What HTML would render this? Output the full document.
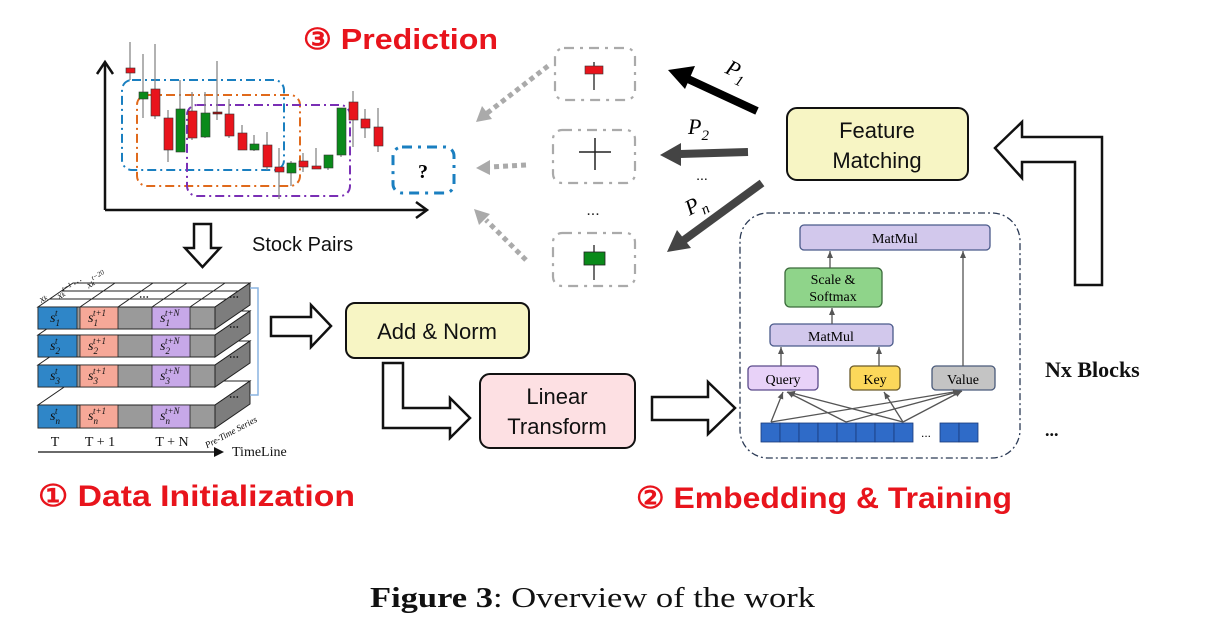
<!DOCTYPE html>
<html><head><meta charset="utf-8"><style>
html,body{margin:0;padding:0;background:#fff;}
svg{display:block;}
.sans{font-family:"Liberation Sans",Arial,sans-serif;}
.serif{font-family:"Liberation Serif","Times New Roman",serif;}
</style></head><body>
<svg width="1228" height="644" viewBox="0 0 1228 644" xmlns="http://www.w3.org/2000/svg">
<defs>
<marker id="ah" markerWidth="8" markerHeight="8" refX="7" refY="4" orient="auto" markerUnits="userSpaceOnUse"><path d="M0,1 L7,4 L0,7 z" fill="#555"/></marker>
</defs>

<text x="303" y="49" class="sans" font-weight="bold" font-size="29" fill="#e8141c" textLength="195" lengthAdjust="spacingAndGlyphs">③ Prediction</text>

<g stroke="#111" stroke-width="2.5" fill="none">
<path d="M105,210 L105,64"/><path d="M97,74 L105,62 L113,74"/>
<path d="M105,210 L426,210"/><path d="M416,202 L427,210 L416,218"/>
</g>
<g fill="none" stroke-width="2" stroke-dasharray="9,4,2,4">
<rect x="122" y="80" width="162" height="90" rx="10" stroke="#1a7fc0"/>
<rect x="137" y="95" width="163" height="91" rx="10" stroke="#e06a1c"/>
<rect x="187" y="105" width="163" height="91" rx="10" stroke="#7a2fb5"/>
</g>
<rect x="393" y="147" width="61" height="46" rx="9" fill="none" stroke="#1a7fc0" stroke-width="3" stroke-dasharray="10,6,3,6"/>
<text x="423" y="178" class="serif" font-weight="bold" font-size="20" text-anchor="middle">?</text>

<g stroke="#888" stroke-width="1.3">
<line x1="130" y1="42" x2="130" y2="80"/><line x1="143" y1="54" x2="143" y2="118"/><line x1="155" y1="44" x2="155" y2="119"/>
<line x1="168" y1="110" x2="168" y2="162"/><line x1="180" y1="80" x2="180" y2="152"/><line x1="192" y1="92" x2="192" y2="140"/>
<line x1="205" y1="92" x2="205" y2="138"/><line x1="217" y1="61" x2="217" y2="120"/><line x1="229" y1="99" x2="229" y2="138"/>
<line x1="242" y1="125" x2="242" y2="150"/><line x1="254" y1="135" x2="254" y2="151"/><line x1="267" y1="132" x2="267" y2="170"/>
<line x1="279" y1="148" x2="279" y2="199"/><line x1="291" y1="161" x2="291" y2="186"/><line x1="303" y1="153" x2="303" y2="172"/>
<line x1="316" y1="148" x2="316" y2="169"/><line x1="328" y1="155" x2="328" y2="170"/><line x1="341" y1="108" x2="341" y2="157"/>
<line x1="353" y1="91" x2="353" y2="147"/><line x1="365" y1="109" x2="365" y2="138"/><line x1="378" y1="108" x2="378" y2="152"/>
</g>
<g stroke="#333" stroke-width="0.6">
<rect x="126" y="68" width="9" height="5" fill="#e8141c"/>
<rect x="139" y="92" width="9" height="7" fill="#0a8a1a"/>
<rect x="151" y="89" width="9" height="27" fill="#e8141c"/>
<rect x="164" y="118" width="9" height="32" fill="#e8141c"/>
<rect x="176" y="109" width="9" height="43" fill="#0a8a1a"/>
<rect x="188" y="111" width="9" height="27" fill="#e8141c"/>
<rect x="201" y="113" width="9" height="24" fill="#0a8a1a"/>
<rect x="213" y="112" width="9" height="2" fill="#a01010"/>
<rect x="225" y="114" width="9" height="22" fill="#e8141c"/>
<rect x="238" y="133" width="9" height="17" fill="#e8141c"/>
<rect x="250" y="144" width="9" height="6" fill="#0a8a1a"/>
<rect x="263" y="145" width="9" height="22" fill="#e8141c"/>
<rect x="275" y="167" width="9" height="5" fill="#e8141c"/>
<rect x="287" y="163" width="9" height="10" fill="#0a8a1a"/>
<rect x="299" y="161" width="9" height="6" fill="#e8141c"/>
<rect x="312" y="166" width="9" height="3" fill="#e8141c"/>
<rect x="324" y="155" width="9" height="13" fill="#0a8a1a"/>
<rect x="337" y="108" width="9" height="47" fill="#0a8a1a"/>
<rect x="349" y="102" width="9" height="18" fill="#e8141c"/>
<rect x="361" y="119" width="9" height="9" fill="#e8141c"/>
<rect x="374" y="127" width="9" height="19" fill="#e8141c"/>
</g>

<path d="M194,224 L211,224 L211,248 L220,248 L202.5,267 L185,248 L194,248 Z" fill="#fff" stroke="#111" stroke-width="2.5"/>
<text x="252" y="251" class="sans" font-size="20" fill="#111">Stock Pairs</text>

<g fill="none" stroke="#aaa" stroke-width="2.2" stroke-dasharray="10,6,3,6">
<rect x="555" y="48" width="80" height="52" rx="9"/>
<rect x="553" y="130" width="82" height="53" rx="9"/>
<rect x="553" y="233" width="82" height="53" rx="9"/>
</g>
<line x1="594" y1="62" x2="594" y2="90" stroke="#222" stroke-width="1.3"/>
<rect x="585" y="66" width="18" height="8" fill="#e8141c" stroke="#333" stroke-width="0.6"/>
<line x1="579" y1="152" x2="611" y2="152" stroke="#222" stroke-width="1.5"/>
<line x1="595" y1="138" x2="595" y2="170" stroke="#222" stroke-width="1.5"/>
<line x1="594" y1="245" x2="594" y2="280" stroke="#222" stroke-width="1.3"/>
<rect x="584" y="252" width="21" height="13" fill="#0a8a1a" stroke="#222" stroke-width="0.8"/>
<text x="593" y="215" class="sans" font-size="16" text-anchor="middle" fill="#222">...</text>

<g stroke="#aaa" stroke-width="5" stroke-dasharray="5,4" fill="none">
<line x1="548" y1="66" x2="486" y2="114"/>
<line x1="526" y1="165" x2="490" y2="167"/>
<line x1="526" y1="260" x2="486" y2="220"/>
</g>
<g fill="#aaa">
<path d="M476,122 L482,106 L492,119 Z"/>
<path d="M476,168 L490,160 L490,175 Z"/>
<path d="M474,209 L490,214 L479,225 Z"/>
</g>

<line x1="757" y1="111" x2="688" y2="79" stroke="#000" stroke-width="8"/>
<path d="M668,70 L695,66 L685,89 Z" fill="#000"/>
<line x1="748" y1="152" x2="680" y2="154" stroke="#444" stroke-width="8"/>
<path d="M660,155 L681,143 L681,166 Z" fill="#444"/>
<line x1="762" y1="183" x2="684" y2="240" stroke="#444" stroke-width="8"/>
<path d="M667,252 L677,230 L691,248 Z" fill="#444"/>
<text x="726" y="76" class="serif" font-style="italic" font-size="22" transform="rotate(25 733 70)">P<tspan font-size="15" dy="6">1</tspan></text>
<text x="688" y="134" class="serif" font-style="italic" font-size="22">P<tspan font-size="15" dy="6">2</tspan></text>
<text x="702" y="180" class="sans" font-size="14" text-anchor="middle">...</text>
<text x="685" y="212" class="serif" font-style="italic" font-size="22" transform="rotate(-28 695 205)">P<tspan font-size="15" dy="6">n</tspan></text>

<rect x="787" y="108" width="181" height="72" rx="10" fill="#f7f5c4" stroke="#111" stroke-width="2"/>
<text x="877" y="138" class="sans" font-size="22" text-anchor="middle" fill="#111">Feature</text>
<text x="877" y="168" class="sans" font-size="22" text-anchor="middle" fill="#111">Matching</text>

<path d="M995,148 L1022,122 L1022,137 L1102,137 L1102,285 L1075,285 L1075,162 L1022,162 L1022,178 Z" fill="#fff" stroke="#111" stroke-width="2.5"/>

<text x="1045" y="377" class="serif" font-weight="bold" font-size="22" fill="#111">Nx Blocks</text>
<text x="1045" y="436" class="serif" font-weight="bold" font-size="18" fill="#111">...</text>

<rect x="740" y="213" width="280" height="245" rx="28" fill="none" stroke="#2b3a55" stroke-width="1.3" stroke-dasharray="7,3,2,3"/>
<rect x="800" y="225" width="190" height="25" rx="4" fill="#d2c8ec" stroke="#4a5a8a" stroke-width="1.3"/>
<text x="895" y="243" class="serif" font-size="14" text-anchor="middle">MatMul</text>
<rect x="785" y="268" width="97" height="39" rx="5" fill="#8fd48a" stroke="#3a6a3a" stroke-width="1.3"/>
<text x="833" y="284" class="serif" font-size="14" text-anchor="middle">Scale &amp;</text>
<text x="833" y="301" class="serif" font-size="14" text-anchor="middle">Softmax</text>
<rect x="770" y="324" width="123" height="22" rx="4" fill="#d2c8ec" stroke="#4a5a8a" stroke-width="1.3"/>
<text x="831" y="341" class="serif" font-size="14" text-anchor="middle">MatMul</text>
<rect x="748" y="366" width="70" height="24" rx="4" fill="#e8d2f8" stroke="#5a4a8a" stroke-width="1.3"/>
<text x="783" y="384" class="serif" font-size="14" text-anchor="middle">Query</text>
<rect x="850" y="366" width="50" height="24" rx="4" fill="#fcd85a" stroke="#6a5a2a" stroke-width="1.3"/>
<text x="875" y="384" class="serif" font-size="14" text-anchor="middle">Key</text>
<rect x="932" y="366" width="63" height="24" rx="4" fill="#c4c4c4" stroke="#4a5a7a" stroke-width="1.3"/>
<text x="963" y="384" class="serif" font-size="14" text-anchor="middle">Value</text>
<g stroke="#555" stroke-width="1.3" marker-end="url(#ah)">
<line x1="830" y1="268" x2="830" y2="251"/>
<line x1="832" y1="324" x2="832" y2="308"/>
<line x1="781" y1="366" x2="781" y2="347"/>
<line x1="879" y1="366" x2="879" y2="347"/>
<line x1="963" y1="366" x2="963" y2="251"/>
<line x1="771" y1="422" x2="783" y2="392"/>
<line x1="846" y1="422" x2="787" y2="392"/>
<line x1="903" y1="422" x2="788" y2="392"/>
<line x1="903" y1="422" x2="884" y2="392"/>
<line x1="771" y1="422" x2="960" y2="391"/>
<line x1="846" y1="422" x2="961" y2="391"/>
<line x1="903" y1="422" x2="962" y2="391"/>
</g>
<g fill="#2f6bc8" stroke="#1a3a7a" stroke-width="0.8">
<rect x="761" y="423" width="19" height="19"/><rect x="780" y="423" width="19" height="19"/><rect x="799" y="423" width="19" height="19"/><rect x="818" y="423" width="19" height="19"/>
<rect x="837" y="423" width="19" height="19"/><rect x="856" y="423" width="19" height="19"/><rect x="875" y="423" width="19" height="19"/><rect x="894" y="423" width="19" height="19"/>
<rect x="940" y="423" width="19" height="19"/><rect x="959" y="423" width="19" height="19"/>
</g>
<text x="926" y="437" class="sans" font-size="12" text-anchor="middle">...</text>

<g stroke="#222" stroke-width="1">
<polygon points="38,405 215,405 250,381 73,381" fill="#fff"/>
<rect x="38" y="405" width="177" height="23" fill="#9a9a9a"/>
<polygon points="215,405 250,381 250,404 215,428" fill="#7d7d7d"/>
<polygon points="38,365 215,365 250,341 73,341" fill="#fff"/>
<rect x="38" y="365" width="177" height="22" fill="#9a9a9a"/>
<polygon points="215,365 250,341 250,363 215,387" fill="#7d7d7d"/>
<polygon points="38,335 215,335 250,311 73,311" fill="#fff"/>
<rect x="38" y="335" width="177" height="22" fill="#9a9a9a"/>
<polygon points="215,335 250,311 250,333 215,357" fill="#7d7d7d"/>
<polygon points="38,307 215,307 250,283 73,283" fill="#fff"/>
<rect x="38" y="307" width="177" height="22" fill="#9a9a9a"/>
<polygon points="215,307 250,283 250,305 215,329" fill="#7d7d7d"/>
<line x1="80" y1="307" x2="115" y2="283"/><line x1="118" y1="307" x2="153" y2="283"/><line x1="152" y1="307" x2="187" y2="283"/><line x1="190" y1="307" x2="225" y2="283"/>
<line x1="50" y1="299" x2="227" y2="299"/><line x1="62" y1="291" x2="239" y2="291"/>
</g>
<g stroke="#222" stroke-width="0.8">
<rect x="38" y="307" width="39" height="22" fill="#2f86c8"/><rect x="80" y="307" width="38" height="22" fill="#f6a898"/><rect x="152" y="307" width="38" height="22" fill="#c7a8e8"/>
<rect x="38" y="335" width="39" height="22" fill="#2f86c8"/><rect x="80" y="335" width="38" height="22" fill="#f6a898"/><rect x="152" y="335" width="38" height="22" fill="#c7a8e8"/>
<rect x="38" y="365" width="39" height="22" fill="#2f86c8"/><rect x="80" y="365" width="38" height="22" fill="#f6a898"/><rect x="152" y="365" width="38" height="22" fill="#c7a8e8"/>
<rect x="38" y="405" width="39" height="23" fill="#2f86c8"/><rect x="80" y="405" width="38" height="23" fill="#f6a898"/><rect x="152" y="405" width="38" height="23" fill="#c7a8e8"/>
</g>
<g class="serif" font-style="italic" font-size="14" fill="#111">
<text x="50" y="322">s<tspan font-size="9" dy="4">1</tspan><tspan font-size="9" dx="-5" dy="-10">t</tspan></text>
<text x="50" y="350">s<tspan font-size="9" dy="4">2</tspan><tspan font-size="9" dx="-5" dy="-10">t</tspan></text>
<text x="50" y="380">s<tspan font-size="9" dy="4">3</tspan><tspan font-size="9" dx="-5" dy="-10">t</tspan></text>
<text x="50" y="420">s<tspan font-size="9" dy="4">n</tspan><tspan font-size="9" dx="-5" dy="-10">t</tspan></text>
<text x="88" y="322">s<tspan font-size="9" dy="4">1</tspan><tspan font-size="9" dx="-5" dy="-10">t+1</tspan></text>
<text x="88" y="350">s<tspan font-size="9" dy="4">2</tspan><tspan font-size="9" dx="-5" dy="-10">t+1</tspan></text>
<text x="88" y="380">s<tspan font-size="9" dy="4">3</tspan><tspan font-size="9" dx="-5" dy="-10">t+1</tspan></text>
<text x="88" y="420">s<tspan font-size="9" dy="4">n</tspan><tspan font-size="9" dx="-5" dy="-10">t+1</tspan></text>
<text x="160" y="322">s<tspan font-size="9" dy="4">1</tspan><tspan font-size="9" dx="-5" dy="-10">t+N</tspan></text>
<text x="160" y="350">s<tspan font-size="9" dy="4">2</tspan><tspan font-size="9" dx="-5" dy="-10">t+N</tspan></text>
<text x="160" y="380">s<tspan font-size="9" dy="4">3</tspan><tspan font-size="9" dx="-5" dy="-10">t+N</tspan></text>
<text x="160" y="420">s<tspan font-size="9" dy="4">n</tspan><tspan font-size="9" dx="-5" dy="-10">t+N</tspan></text>
<text x="38" y="300" font-size="10" transform="rotate(-30 45 295)">x<tspan font-size="7">k</tspan></text>
<text x="56" y="297" font-size="10" transform="rotate(-30 62 292)">x<tspan font-size="7">k</tspan><tspan font-size="7" dy="-5">t−1</tspan> …</text>
<text x="86" y="286" font-size="10" transform="rotate(-30 92 282)">x<tspan font-size="7">k</tspan><tspan font-size="7" dy="-5">t−20</tspan></text>
</g>
<g class="sans" font-size="10" fill="#111" font-weight="bold">
<text x="139" y="300">⋯</text><text x="229" y="300">⋯</text><text x="229" y="330">⋯</text><text x="229" y="360">⋯</text><text x="229" y="400">⋯</text>
</g>
<path d="M250,288 L258,288 L258,395 L250,395" fill="none" stroke="#8ab4e0" stroke-width="1.5"/>
<text x="200" y="440" class="serif" font-style="italic" font-size="9" transform="rotate(-28 220 430)">Pre-Time Series</text>
<g class="serif" font-size="14" fill="#111">
<text x="55" y="446" text-anchor="middle">T</text>
<text x="100" y="446" text-anchor="middle">T + 1</text>
<text x="172" y="446" text-anchor="middle">T + N</text>
<text x="232" y="456">TimeLine</text>
</g>
<line x1="38" y1="452" x2="215" y2="452" stroke="#111" stroke-width="1.3"/>
<path d="M214,447 L224,452 L214,457 Z" fill="#111"/>

<path d="M271,317 L311,317 L311,305 L331,326 L311,347 L311,336 L271,336 Z" fill="#fff" stroke="#111" stroke-width="2.5"/>
<rect x="346" y="303" width="183" height="55" rx="9" fill="#f7f5c4" stroke="#111" stroke-width="2"/>
<text x="437" y="339" class="sans" font-size="22" text-anchor="middle" fill="#111">Add &amp; Norm</text>
<path d="M383,363 L403,363 L403,408 L450,408 L450,398 L470,418 L450,438 L450,428 L383,428 Z" fill="#fff" stroke="#111" stroke-width="2.5"/>
<rect x="480" y="374" width="155" height="74" rx="10" fill="#fde0e3" stroke="#111" stroke-width="2"/>
<text x="557" y="404" class="sans" font-size="22" text-anchor="middle" fill="#111">Linear</text>
<text x="557" y="434" class="sans" font-size="22" text-anchor="middle" fill="#111">Transform</text>
<path d="M652,397 L708,397 L708,382 L735,408 L708,434 L708,420 L652,420 Z" fill="#fff" stroke="#111" stroke-width="2.5"/>

<text x="38" y="506" class="sans" font-weight="bold" font-size="30" fill="#e8141c" textLength="317" lengthAdjust="spacingAndGlyphs">① Data Initialization</text>
<text x="636" y="508" class="sans" font-weight="bold" font-size="30" fill="#e8141c" textLength="376" lengthAdjust="spacingAndGlyphs">② Embedding &amp; Training</text>

<text x="370" y="607" class="serif" font-size="28" fill="#111" textLength="445" lengthAdjust="spacingAndGlyphs"><tspan font-weight="bold">Figure 3</tspan>: Overview of the work</text>
</svg>
</body></html>
